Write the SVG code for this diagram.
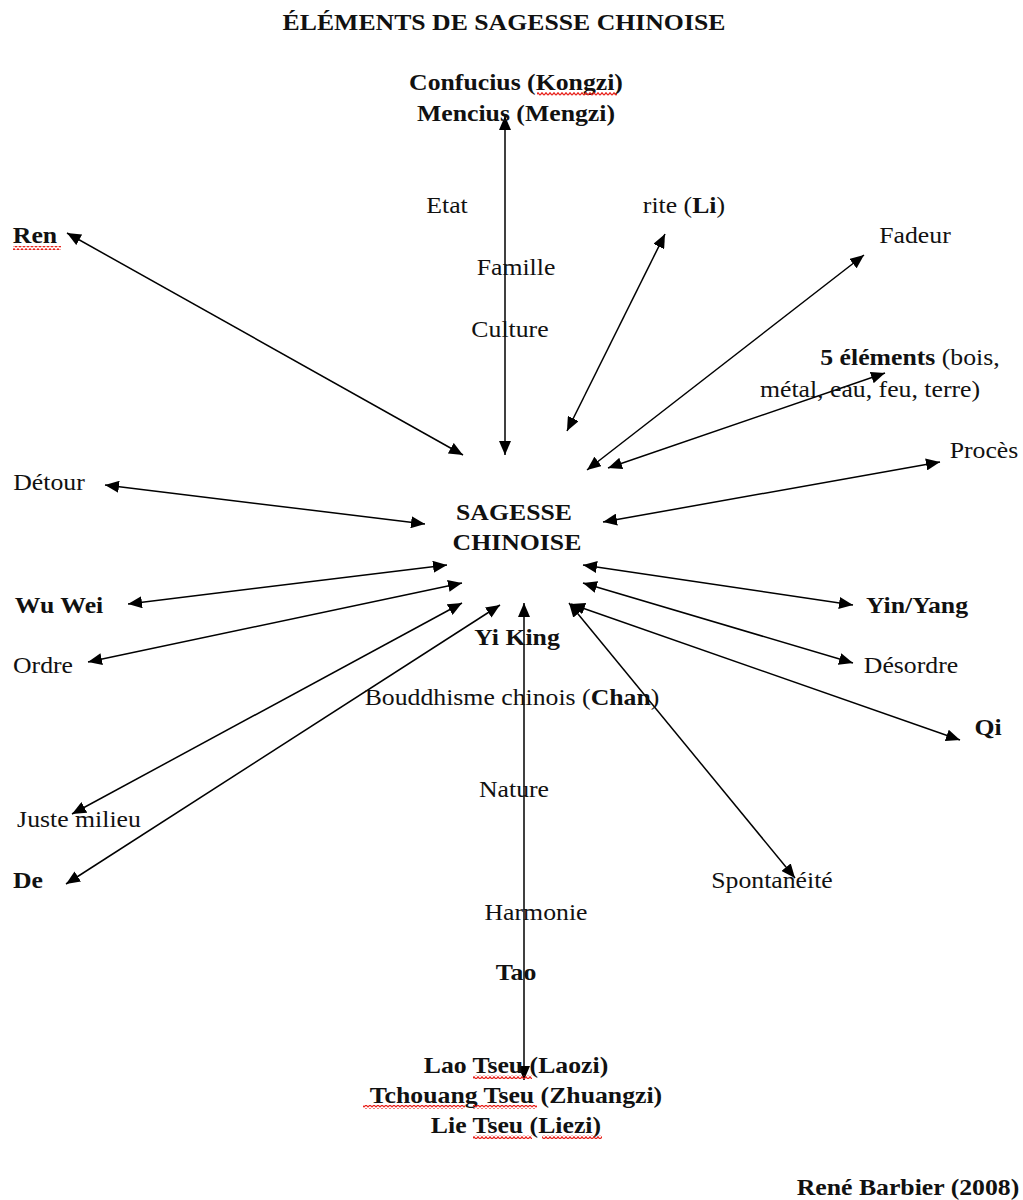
<svg xmlns="http://www.w3.org/2000/svg" width="1023" height="1200" viewBox="0 0 1023 1200">
  <style>
    text { font-family: "Liberation Serif", "Times New Roman", serif; font-size: 23px; fill: #111; text-anchor: middle;
           transform-box: fill-box; transform-origin: center; transform: scaleX(1.12); }
    .b { font-weight: bold; }
    .link { stroke: #000; stroke-width: 1.5; fill: none; marker-start: url(#head); marker-end: url(#head); }
    .squig { fill: url(#wave); }
  </style>
  <defs>
    <marker id="head" markerUnits="userSpaceOnUse" markerWidth="16" markerHeight="12" refX="14" refY="6" orient="auto-start-reverse">
      <path d="M0,0 L14,6 L0,12 z" fill="#000"/>
    </marker>
    <!-- spell-check wave under unknown words -->
    <pattern id="wave" patternUnits="userSpaceOnUse" width="4" height="4">
      <path d="M0,3.2 L2,0.8 L4,3.2" stroke="#e8201a" stroke-width="1.3" fill="none"/>
    </pattern>
  </defs>

  <rect width="1023" height="1200" fill="#fff"/>

  <g id="title">
    <text class="b" x="504" y="30">ÉLÉMENTS DE SAGESSE CHINOISE</text>
  </g>

  <g id="connectors">
    <line class="link" x1="505" y1="116" x2="505" y2="455"/>
    <line class="link" x1="67" y1="233" x2="463" y2="455"/>
    <line class="link" x1="665" y1="234" x2="567" y2="431"/>
    <line class="link" x1="864" y1="255" x2="587" y2="470"/>
    <line class="link" x1="885" y1="373" x2="608" y2="468"/>
    <line class="link" x1="940" y1="462" x2="603" y2="522"/>
    <line class="link" x1="105" y1="485" x2="425" y2="524"/>
    <line class="link" x1="128" y1="604" x2="447" y2="565"/>
    <line class="link" x1="88" y1="662" x2="462" y2="583"/>
    <line class="link" x1="72" y1="814" x2="462" y2="603"/>
    <line class="link" x1="66" y1="884" x2="500" y2="605"/>
    <line class="link" x1="524" y1="603" x2="524" y2="1080"/>
    <line class="link" x1="795" y1="878" x2="569" y2="603"/>
    <line class="link" x1="960" y1="740" x2="571" y2="604"/>
    <line class="link" x1="853" y1="605" x2="583" y2="565"/>
    <line class="link" x1="853" y1="663" x2="583" y2="583"/>
  </g>

  <g id="node-confucius">
    <text class="b" x="516" y="90">Confucius (Kongzi)</text>
    <text class="b" x="516" y="121">Mencius (Mengzi)</text>
    <rect class="squig" x="537" y="92" width="80" height="4"/>
  </g>
  <g id="node-etat"><text x="447" y="213">Etat</text></g>
  <g id="node-rite"><text x="684" y="213">rite (<tspan class="b">Li</tspan>)</text></g>
  <g id="node-famille"><text x="516" y="275">Famille</text></g>
  <g id="node-culture"><text x="510" y="337">Culture</text></g>
  <g id="node-ren">
    <text class="b" x="35" y="243">Ren</text>
    <rect class="squig" x="13" y="246" width="48" height="4"/>
  </g>
  <g id="node-fadeur"><text x="915" y="243">Fadeur</text></g>
  <g id="node-elements">
    <text x="910" y="365"><tspan class="b">5 éléments</tspan> (bois,</text>
    <text x="870" y="397">métal, eau, feu, terre)</text>
  </g>
  <g id="node-proces"><text x="984" y="458">Procès</text></g>
  <g id="node-detour"><text x="49" y="490">Détour</text></g>
  <g id="node-sagesse">
    <text class="b" x="514" y="520">SAGESSE</text>
    <text class="b" x="517" y="550">CHINOISE</text>
  </g>
  <g id="node-wuwei"><text class="b" x="59" y="613">Wu Wei</text></g>
  <g id="node-ordre"><text x="43" y="673">Ordre</text></g>
  <g id="node-yiking"><text class="b" x="517" y="645">Yi King</text></g>
  <g id="node-yinyang"><text class="b" x="917" y="613">Yin/Yang</text></g>
  <g id="node-desordre"><text x="911" y="673">Désordre</text></g>
  <g id="node-qi"><text class="b" x="988" y="735">Qi</text></g>
  <g id="node-chan"><text x="512" y="705">Bouddhisme chinois (<tspan class="b">Chan</tspan>)</text></g>
  <g id="node-nature"><text x="514" y="797">Nature</text></g>
  <g id="node-juste"><text x="79" y="827">Juste milieu</text></g>
  <g id="node-de"><text class="b" x="28" y="888">De</text></g>
  <g id="node-spontaneite"><text x="772" y="888">Spontanéité</text></g>
  <g id="node-harmonie"><text x="536" y="920">Harmonie</text></g>
  <g id="node-tao"><text class="b" x="516" y="980">Tao</text></g>
  <g id="node-laozi">
    <text class="b" x="516" y="1073">Lao Tseu (Laozi)</text>
    <text class="b" x="516" y="1103">Tchouang Tseu (Zhuangzi)</text>
    <text class="b" x="516" y="1133">Lie Tseu (Liezi)</text>
    <rect class="squig" x="473" y="1075" width="59" height="4"/>
    <rect class="squig" x="363" y="1105" width="102" height="4"/>
    <rect class="squig" x="473" y="1105" width="64" height="4"/>
    <rect class="squig" x="473" y="1135" width="59" height="4"/>
    <rect class="squig" x="542" y="1135" width="60" height="4"/>
  </g>
  <g id="author"><text class="b" x="908" y="1195">René Barbier (2008)</text></g>
</svg>
